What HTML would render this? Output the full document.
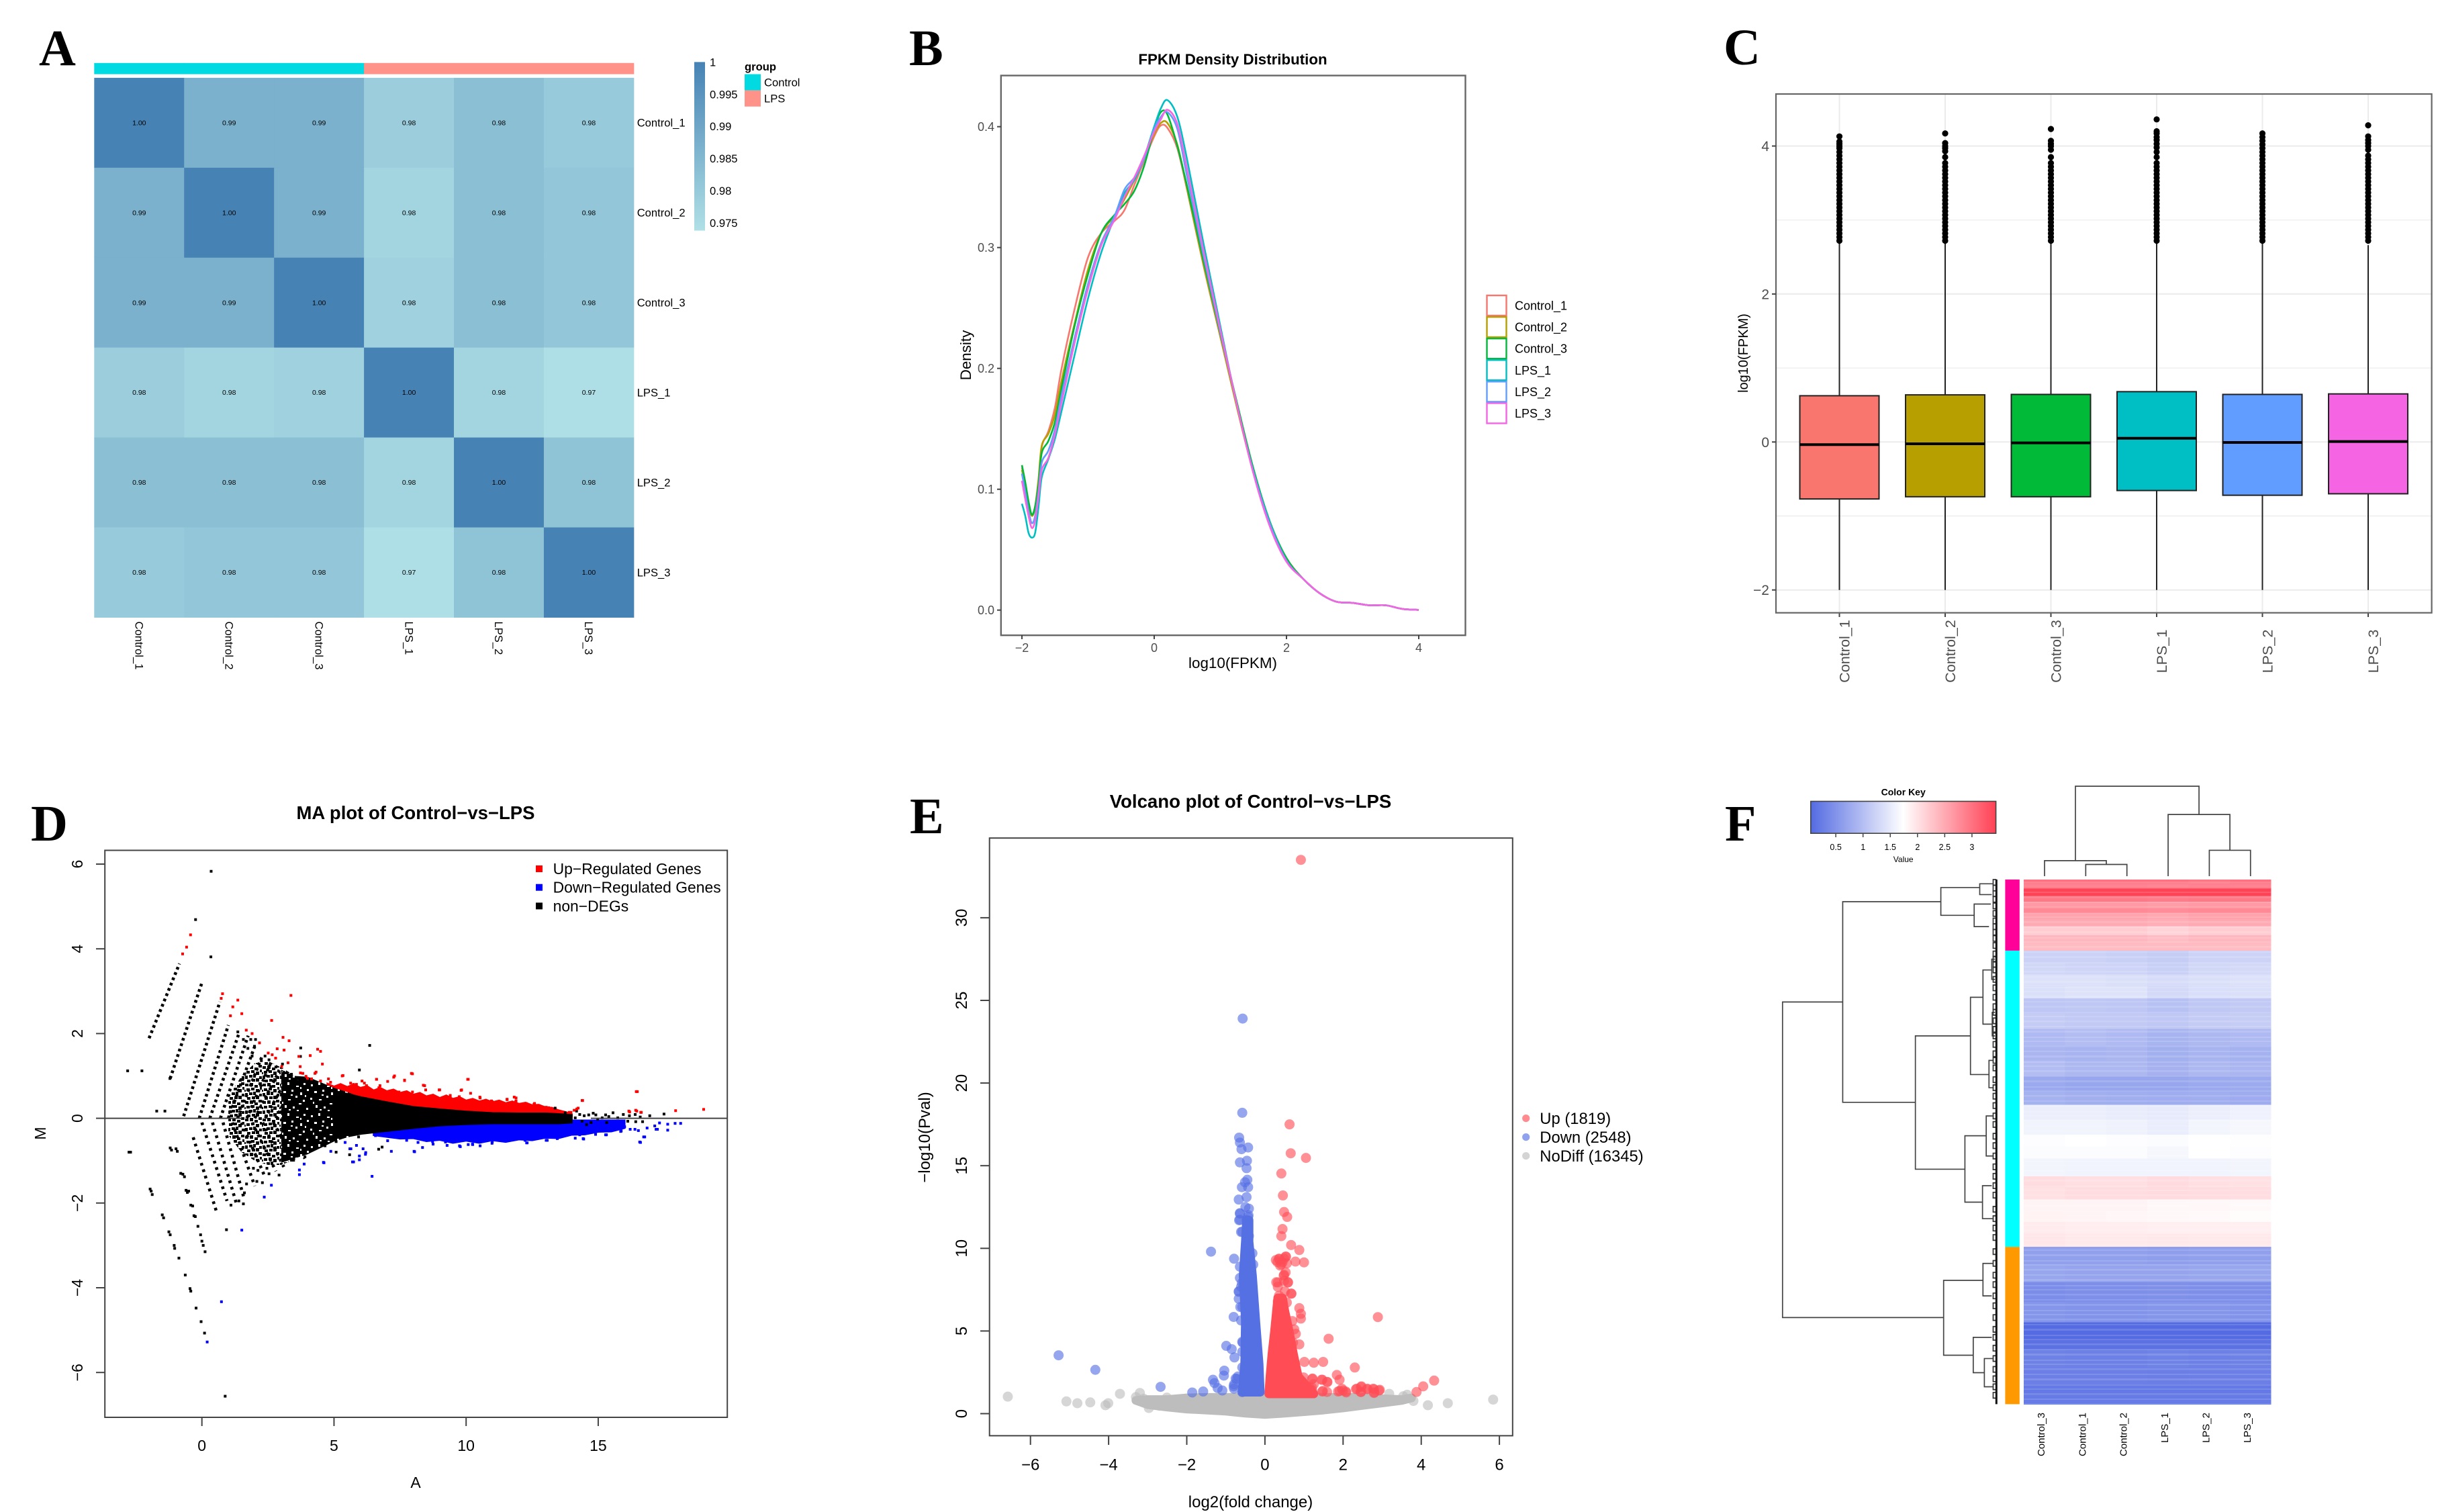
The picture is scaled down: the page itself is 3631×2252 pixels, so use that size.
<!DOCTYPE html>
<html lang="en">
<head>
<meta charset="utf-8">
<title>Transcriptome QC figure</title>
<style>
html,body{margin:0;padding:0;background:#fff;width:3631px;height:2252px;overflow:hidden}
svg{display:block}
text{font-family:"Liberation Sans",sans-serif;fill:#000}
.letter{font-family:"Liberation Serif",serif;font-weight:700;font-size:76px}
.gg{fill:#4d4d4d}
</style>
</head>
<body>
<svg id="fig" xmlns="http://www.w3.org/2000/svg" width="3631" height="2252" viewBox="0 0 3631 2252">
<rect width="3631" height="2252" fill="#fff"/>
<defs>
<linearGradient id="corrGrad" x1="0" y1="0" x2="0" y2="1"><stop offset="0" stop-color="#4682b4"/><stop offset="1" stop-color="#b0e0e6"/></linearGradient>
<linearGradient id="keyGrad" x1="0" y1="0" x2="1" y2="0"><stop offset="0" stop-color="#546be2"/><stop offset="0.5" stop-color="#ffffff"/><stop offset="1" stop-color="#ff4155"/></linearGradient>
<pattern id="maSpeckle" width="46" height="46" patternUnits="userSpaceOnUse">
<rect width="46" height="46" fill="#000"/>
<path fill="#fff" d="M3 5h3v3h-3zM14 2h3v4h-3zM27 7h4v2h-4zM38 3h3v3h-3zM8 15h4v3h-4zM20 13h3v3h-3zM33 17h3v4h-3zM43 12h3v3h-3zM2 25h3v3h-3zM15 27h4v2h-4zM26 22h3v3h-3zM37 28h3v3h-3zM10 36h3v4h-3zM22 38h3v3h-3zM31 33h4v2h-4zM42 40h3v3h-3zM19 20h3v2h-3zM6 31h2v3h-2zM28 43h3v2h-3zM40 21h2v3h-2zM16 42h3v2h-3zM33 9h2v3h-2z"/>
</pattern>
<pattern id="maStipple" width="26" height="26" patternUnits="userSpaceOnUse">
<path fill="#000" d="M1 2h5v4h-5zM8 1h5v5h-5zM15 4h5v4h-5zM21 0h5v4h-5zM3 9h5v4h-5zM10 8h5v4h-5zM17 10h5v5h-5zM23 7h3v4h-3zM1 16h4v5h-4zM7 15h5v4h-5zM13 14h4v5h-4zM22 17h4v4h-4zM4 22h5v4h-5zM11 21h5v4h-5zM17 20h5v5h-5zM0 11h2v3h-2z"/>
</pattern>
<pattern id="heatStripes" width="60" height="37" patternUnits="userSpaceOnUse">
<path fill="#fff" fill-opacity="0.13" d="M0 3h60v2.5h-60zM0 11h60v2h-60zM0 18h60v3h-60zM0 27h60v2h-60zM0 33h60v2h-60z"/>
</pattern>
</defs>
<text class="letter" x="58" y="97">A</text>
<text class="letter" x="1354" y="97">B</text>
<text class="letter" x="2567" y="96">C</text>
<text class="letter" x="46" y="1252">D</text>
<text class="letter" x="1355" y="1241">E</text>
<text class="letter" x="2569" y="1252">F</text>
<g id="pa"></g>
<g id="pb"></g>
<g id="pc"></g>
<g id="pd"></g>
<g id="pe"></g>
<g id="pf"></g>
</svg>

<script>
function addEl(parent, tag, attrs, text){
  const node = document.createElementNS('http://www.w3.org/2000/svg', tag);
  for (const k in attrs) node.setAttribute(k, attrs[k]);
  if (text !== undefined) node.textContent = text;
  parent.appendChild(node);
  return node;
}
function linePath(xs, ys){
  return xs.map((x,i)=>(i?'L':'M')+x.toFixed(1)+' '+ys[i].toFixed(1)).join('');
}
function smoothPath(xs, ys){
  let d='M'+xs[0].toFixed(1)+' '+ys[0].toFixed(1);
  for(let i=0;i<xs.length-1;i++){
    const a=Math.max(i-1,0), b=Math.min(i+2,xs.length-1);
    const c1x=xs[i]+(xs[i+1]-xs[a])/6, c1y=ys[i]+(ys[i+1]-ys[a])/6;
    const c2x=xs[i+1]-(xs[b]-xs[i])/6, c2y=ys[i+1]-(ys[b]-ys[i])/6;
    d+='C'+c1x.toFixed(1)+' '+c1y.toFixed(1)+' '+c2x.toFixed(1)+' '+c2y.toFixed(1)+' '+xs[i+1].toFixed(1)+' '+ys[i+1].toFixed(1);
  }
  return d;
}
</script>

<script>
/* Panel A: sample correlation heatmap */
const corrSamples = ['Control_1','Control_2','Control_3','LPS_1','LPS_2','LPS_3'];
const corrMatrix = [
 [1.000,0.987,0.987,0.979,0.983,0.980],
 [0.987,1.000,0.987,0.977,0.983,0.981],
 [0.987,0.987,1.000,0.978,0.983,0.981],
 [0.979,0.977,0.978,1.000,0.977,0.974],
 [0.983,0.983,0.983,0.977,1.000,0.982],
 [0.980,0.981,0.981,0.974,0.982,1.000]
];
const corrGroups = ['Control','Control','Control','LPS','LPS','LPS'];
const corrLegendTicks = [1,0.995,0.99,0.985,0.98,0.975];
(function(){
  const g=document.getElementById('pa');
  const cx=i=>140.3+i*133.93, cy=i=>115.9+i*133.93;
  const groupColor={Control:'#00dae0',LPS:'#ff9289'};
  const lo=[176,224,230], hi=[70,130,180], vMin=0.9738;
  const color=v=>{const t=Math.max(0,Math.min(1,(v-vMin)/(1-vMin)));return 'rgb('+lo.map((c,i)=>Math.round(c+(hi[i]-c)*t)).join(',')+')';};
  corrGroups.forEach((grp,i)=>{
    const r=addEl(g,'rect',{x:cx(i),y:93.8,width:134.4,height:16.7,fill:groupColor[grp]});
    
    
  });
  corrMatrix.forEach((row,ri)=>row.forEach((v,ci)=>{
    const r=addEl(g,'rect',{x:cx(ci),y:cy(ri),width:134.4,height:134.4,fill:color(v)});
    
    
    const t=addEl(g,'text',{x:cx(ci)+67,y:cy(ri)+70.5,'text-anchor':'middle','font-size':10.5,fill:'#111'},v.toFixed(2));
    
    
  }));
  corrSamples.forEach((s,i)=>{
    const t=addEl(g,'text',{x:948.7,y:cy(i)+72.8,'font-size':16.6},s);
    
    
    const x=cx(i)+67, y=925.5;
    const b=addEl(g,'text',{x:x-5.8,y:y,'font-size':16.6,transform:'rotate(90 '+(x-5.8)+' '+y+')'},s);
    
    
  });
  const bar=addEl(g,'rect',{x:1034,y:92.4,width:16,height:251.1,fill:'url(#corrGrad)'});
  
  
  corrLegendTicks.forEach(v=>{
    const y=92.4+(1-v)/(1-vMin)*251.1;
    const t=addEl(g,'text',{x:1057,y:y+6,'font-size':16.6},String(v));
    
    
  });
  const gt=addEl(g,'text',{x:1109,y:105,'font-size':16.6,'font-weight':700},'group');
  
  
  ['Control','LPS'].forEach((grp,i)=>{
    const k=addEl(g,'rect',{x:1109,y:110.5+i*24.1,width:24,height:24.1,fill:groupColor[grp]});
    
    
    const t=addEl(g,'text',{x:1138,y:128.5+i*24.1,'font-size':16.6},grp);
    
    
  });
})();
</script>

<script>
/* Panel B: density curves */
const densitySamples = ['Control_1','Control_2','Control_3','LPS_1','LPS_2','LPS_3'];
const densityColors = ['#F8766D','#B79F00','#00BA38','#00BFC4','#619CFF','#F564E3'];
const densityX = [-2,-1.95,-1.9,-1.85,-1.8,-1.75,-1.7,-1.6,-1.5,-1.4,-1.2,-1,-0.8,-0.6,-0.45,-0.3,-0.15,0,0.1,0.2,0.35,0.5,0.75,1,1.25,1.5,1.75,2,2.25,2.5,2.75,3,3.25,3.5,3.75,4];
const densityControl1 = [.118,.105,.088,.078,.085,.105,.135,.148,.168,.200,.250,.292,.312,.322,.331,.352,.372,.392,.401,.399,.382,.347,.284,.226,.168,.114,.071,.042,.026,.014,.007,.006,.004,.004,.001,.0002];
const densityControl2 = [.116,.103,.088,.078,.086,.108,.136,.146,.162,.190,.238,.282,.312,.326,.340,.356,.374,.394,.403,.403,.385,.348,.285,.227,.168,.114,.071,.043,.026,.014,.007,.006,.004,.004,.001,.0002];
const densityControl3 = [.120,.106,.090,.079,.086,.104,.130,.140,.156,.184,.236,.278,.312,.327,.336,.347,.368,.398,.412,.410,.384,.350,.288,.229,.172,.117,.073,.043,.026,.014,.007,.006,.004,.004,.001,.0002];
const densityLps1 = [.088,.078,.064,.060,.064,.085,.110,.125,.142,.165,.212,.258,.296,.325,.345,.356,.375,.400,.415,.422,.408,.372,.302,.235,.170,.115,.072,.041,.026,.014,.007,.006,.004,.004,.001,.0002];
const densityLps2 = [.113,.098,.082,.072,.078,.098,.122,.132,.150,.178,.226,.270,.304,.326,.348,.358,.374,.398,.408,.412,.398,.358,.292,.230,.170,.114,.071,.041,.026,.014,.007,.006,.004,.004,.001,.0002];
const densityLps3 = [.107,.092,.078,.068,.074,.094,.116,.126,.146,.172,.222,.266,.302,.323,.342,.358,.376,.396,.406,.414,.402,.364,.296,.232,.170,.113,.069,.040,.026,.014,.007,.006,.004,.004,.001,.0002];
const densityXTicks = [-2,0,2,4];
const densityYTicks = [0,0.1,0.2,0.3,0.4];
(function(){
  const g=document.getElementById('pb');
  const series=[densityControl1,densityControl2,densityControl3,densityLps1,densityLps2,densityLps3];
  const sx=v=>1719+v*98.5, sy=v=>908.7-v*1800;
  const frame=addEl(g,'rect',{x:1490.8,y:112.5,width:691.7,height:833.7,fill:'none',stroke:'#666',"stroke-width":2.4});
  
  
  series.forEach((ys,i)=>{
    const p=addEl(g,'path',{d:smoothPath(densityX.map(sx),ys.map(sy)),fill:'none',stroke:densityColors[i],'stroke-width':2.6});
    
    
    const k=addEl(g,'rect',{x:2214.5,y:440+i*32.1,width:29,height:30,fill:'#fff',stroke:densityColors[i],'stroke-width':2.4});
    
    
    const t=addEl(g,'text',{x:2256,y:461.5+i*32.1,'font-size':18},densitySamples[i]);
    
    
  });
  densityXTicks.forEach(v=>{
    const tk=addEl(g,'line',{x1:sx(v),x2:sx(v),y1:946,y2:952,stroke:'#444','stroke-width':2});
    
    
    const t=addEl(g,'text',{x:sx(v),y:971,'text-anchor':'middle','font-size':18,class:'gg'},String(v).replace('-','\u2212'));
    
    
  });
  densityYTicks.forEach(v=>{
    const tk=addEl(g,'line',{x1:1485,x2:1491,y1:sy(v),y2:sy(v),stroke:'#444','stroke-width':2});
    
    
    const t=addEl(g,'text',{x:1481,y:sy(v)+6.5,'text-anchor':'end','font-size':18,class:'gg'},v.toFixed(1));
    
    
  });
  const title=addEl(g,'text',{x:1836,y:96,'text-anchor':'middle','font-size':22.3,'font-weight':700},'FPKM Density Distribution');
  
  
  const xl=addEl(g,'text',{x:1836,y:995,'text-anchor':'middle','font-size':22.4},'log10(FPKM)');
  
  
  const yl=addEl(g,'text',{x:1446,y:529,'text-anchor':'middle','font-size':22.4,transform:'rotate(-90 1446 529)'},'Density');
  
  
})();
</script>

<script>
/* Panel C: box plot */
const boxSamples = ['Control_1','Control_2','Control_3','LPS_1','LPS_2','LPS_3'];
const boxColors = ['#F8766D','#B79F00','#00BA38','#00BFC4','#619CFF','#F564E3'];
const boxQ1 = [-0.77,-0.74,-0.74,-0.656,-0.72,-0.70];
const boxMedian = [-0.036,-0.024,-0.012,0.05,-0.006,0.006];
const boxQ3 = [0.625,0.637,0.643,0.68,0.643,0.65];
const boxWhiskerLow = [-2,-2,-2,-2,-2,-2];
const boxWhiskerHigh = [2.72,2.70,2.72,2.68,2.68,2.66];
const boxDenseOutliers = [2.72,2.77,2.82,2.87,2.92,2.97,3.02,3.07,3.12,3.17,3.22,3.27,3.32,3.37,3.42,3.47,3.52,3.57,3.62,3.67,3.72];
const boxTopOutliers = [
 [3.77,3.82,3.87,3.92,3.97,4.0,4.03,4.06,4.13],
 [3.77,3.85,3.93,3.97,4.0,4.04,4.17],
 [3.77,3.85,3.95,4.0,4.03,4.07,4.23],
 [3.77,3.85,3.92,3.98,4.03,4.08,4.12,4.17,4.2,4.36],
 [3.77,3.82,3.87,3.92,3.97,4.02,4.07,4.12,4.17],
 [3.77,3.82,3.87,3.95,4.0,4.04,4.08,4.13,4.28]
];
const boxYTicks = [-2,0,2,4];
const boxMinorTicks = [-1,1,3];
(function(){
  const g=document.getElementById('pc');
  const sx=i=>2739.5+i*157.5, sy=v=>658.3-v*110.2, hw=59;
  const bg=[[boxMinorTicks,1.2],[boxYTicks,2]];
  bg.forEach(([vals,w])=>vals.forEach(v=>{
    const l=addEl(g,'line',{x1:2645,x2:3621.6,y1:sy(v),y2:sy(v),stroke:'#ebebeb','stroke-width':w});
    
    
  }));
  boxSamples.forEach((s,i)=>{
    const l=addEl(g,'line',{x1:sx(i),x2:sx(i),y1:140,y2:912.7,stroke:'#ebebeb','stroke-width':2});
    
    
  });
  boxSamples.forEach((s,i)=>{
    const w=addEl(g,'line',{x1:sx(i),x2:sx(i),y1:sy(boxWhiskerHigh[i]),y2:sy(boxWhiskerLow[i]),stroke:'#222','stroke-width':2});
    
    
    boxDenseOutliers.concat(boxTopOutliers[i]).forEach(v=>{
      const c=addEl(g,'circle',{cx:sx(i),cy:sy(v),r:4.6,fill:'#000'});
      
      
    });
    const b=addEl(g,'rect',{x:sx(i)-hw,y:sy(boxQ3[i]),width:hw*2,height:sy(boxQ1[i])-sy(boxQ3[i]),fill:boxColors[i],stroke:'#222','stroke-width':2});
    
    
    const m=addEl(g,'line',{x1:sx(i)-hw,x2:sx(i)+hw,y1:sy(boxMedian[i]),y2:sy(boxMedian[i]),stroke:'#000','stroke-width':4});
    
    
    const tk=addEl(g,'line',{x1:sx(i),x2:sx(i),y1:913,y2:919,stroke:'#444','stroke-width':2});
    
    
    const tx=sx(i)+15;
    const t=addEl(g,'text',{x:tx,y:970,'text-anchor':'middle','font-size':21.6,class:'gg',transform:'rotate(-90 '+tx+' 970)'},s);
    
    
  });
  const frame=addEl(g,'rect',{x:2645,y:140,width:976.6,height:772.7,fill:'none',stroke:'#666','stroke-width':2.2});
  
  
  boxYTicks.forEach(v=>{
    const tk=addEl(g,'line',{x1:2639,x2:2645,y1:sy(v),y2:sy(v),stroke:'#444','stroke-width':2});
    
    
    const t=addEl(g,'text',{x:2635,y:sy(v)+7.5,'text-anchor':'end','font-size':21,class:'gg'},String(v).replace('-','\u2212'));
    
    
  });
  const yl=addEl(g,'text',{x:2603,y:526,'text-anchor':'middle','font-size':20,transform:'rotate(-90 2603 526)'},'log10(FPKM)');
  
  
})();
</script>

<script>
/* Panel D: MA plot */
const maXTicks = [0,5,10,15];
const maYTicks = [-6,-4,-2,0,2,4,6];
const maUpperStripeA0 = [-2.0,-1.2,-0.69,-0.1,0.3,0.7,1.0,1.35,1.7,2.0,2.4,2.8,3.15];
const maUpperStripeM0 = [1.89,0.94,0.05,0,0,0,0,0,0,0,0,0,0];
const maUpperStripeA1 = [-0.85,0,0.68,1.0,1.4,1.75,2.0,2.3,2.6,2.95,3.3,3.6,4.0];
const maUpperStripeM1 = [3.65,3.2,2.75,2.2,2.0,1.95,1.7,1.5,1.3,1.15,1.05,0.95,0.85];
const maLowerStripeA0 = [-0.33,0,0.4,0.8,1.15,1.5,1.9,2.3,2.7,3.1];
const maLowerStripeM0 = [-0.45,-0.1,-0.1,-0.1,-0.1,-0.1,-0.1,-0.1,-0.1,-0.1];
const maLowerStripeA1 = [0.55,0.95,1.3,1.6,2.0,2.4,2.8,3.1,3.5,3.9];
const maLowerStripeM1 = [-2.2,-1.95,-2.0,-1.9,-1.6,-1.4,-1.25,-1.15,-1.0,-0.95];
const maStippleA = [1,1.5,2,2.5,3,3.4];
const maStippleTop = [0.5,1.0,1.3,1.35,1.2,1.05];
const maStippleBottom = [-0.4,-0.8,-1.0,-1.1,-1.1,-1.0];
const maSpeckleA = [3,3.5,4,4.5,5,5.5,6,6.5];
const maSpeckleTop = [1.15,1.0,0.98,0.85,0.72,0.62,0.5,0.44];
const maSpeckleBottom = [-1.05,-0.95,-0.85,-0.7,-0.55,-0.45,-0.39,-0.34];
const maCoreA = [5,5.5,6,7,8,9,10,11,12,13,13.5,14];
const maCoreTop = [0.62,0.58,0.5,0.38,0.27,0.21,0.16,0.125,0.115,0.115,0.1,0.08];
const maCoreBottom = [-0.42,-0.4,-0.37,-0.3,-0.23,-0.17,-0.14,-0.12,-0.12,-0.12,-0.12,-0.1];
const maRedA = [4.75,5,5.25,5.5,5.75,6,6.25,6.5,6.75,7,7.25,7.5,7.75,8,8.25,8.5,8.75,9,9.25,9.5,9.75,10,10.25,10.5,10.75,11,11.25,11.5,11.75,12,12.25,12.5,12.75,13,13.25,13.5,13.75,14];
const maRedTop = [.82,.75,.81,.74,.8,.72,.76,.66,.72,.64,.68,.6,.64,.56,.6,.52,.56,.48,.54,.46,.5,.42,.46,.4,.44,.38,.42,.36,.4,.34,.37,.31,.32,.26,.25,.19,.15,.1];
const maBlueA = [6.5,7,7.5,8,8.5,9,9.5,10,10.5,11,11.5,12,12.5,13,13.5,14,14.5,15,15.5,16];
const maBlueBottom = [-.4,-.44,-.48,-.47,-.54,-.51,-.58,-.53,-.58,-.52,-.56,-.5,-.52,-.46,-.47,-.39,-.38,-.32,-.31,-.23];
const maRedPointsA = [-.43,-.58,-.73,.78,.73,1.36,1.17,1.51,1.08,3.37,2.64,1.9,1.68,2.18,3.07,3.3,2.85,3.11,2.51,2.66,2.79,3.02,3.26,3.67,4.1,4.38,4.49,4.56,3.72,3.82,4,4.28,5.31,5.74,6.15,6.61,6.7,7.26,7.67,7.93,8.38,8.98,9.4,9.81,10.06,10.52,10.99,11.55,11.82,11.88,12.57,13.03,13.97,14.19,14.39,16.44,16.16,16.42,16.61,17.93,18.99,
 3.73,3.94,4.15,4.32,4.49,4.79,4.87,5.17,5.34,5.63,5.85,6.06,6.23,6.02,6.61,6.74,7.03,7.29,7.67,7.97,8.43,8.47,9.0,9.83,10.08,6.95,7.46,7.97,8.26,8.81,9.4,9.74,10.17,
 10.53,10.96,11.55,11.89,11.89,12.27,12.59,13.12,14.41,14.09,14.24,13.9,16.48,16.19,16.46,16.63];
const maRedPointsM = [4.33,4.04,3.88,2.94,2.83,2.79,2.63,2.47,2.42,2.9,2.31,2,2.08,1.78,1.91,1.83,1.64,1.61,1.54,1.5,1.42,1.22,1.31,1.46,1.48,1.63,1.58,1.28,1.22,1.06,.94,1.06,1,.8,.83,.92,.72,.97,.89,1.06,.78,.67,.5,.66,.92,.5,.39,.44,.5,.39,.33,.26,.14,.22,.42,.63,.17,.19,.14,.18,.21,
 1.07,.99,.93,1.09,.88,.93,.85,.75,1.01,.83,.8,.88,.77,.62,.92,.77,.87,1,.9,1.05,.77,.67,.67,.67,.92,.62,.62,.62,.54,.51,.54,.51,.59,
 .48,.41,.45,.48,.41,.35,.35,.25,.42,.19,.24,.14,.63,.15,.17,.14];
const maBluePointsA = [.74,.2,1.51,2.36,2.63,3.69,3.69,3.87,4.6,4.88,5.6,5.7,5.96,6.2,6.44,7.17,8.03,8.75,9.22,9.78,10.24,10.99,12.29,13.03,14.43,15.31,15.87,16.57,16.72,16.39,17.19,17.32,17.63,17.63,17.91,18.12,15.64,
 14.09,14.3,14.45,14.13,14.9,15.28,15.57,15.85,16.21,16.52,16.76,16.6,16.85,17.14,17.24,10.53,10.25,10.98,12.23,12.31,13.07,13.45,14.9,15.32,15.66,16,
 5.42,5.64,5.85,6.1,6.19,5.74,5.96,4.62,6.57,7.03,7.46,7.75,8.18,8.35,8.05,9.28,9.75,10.08,8.73];
const maBluePointsM = [-4.33,-5.28,-2.64,-1.86,-1.58,-1.22,-1.33,-1.08,-1.04,-.78,-.72,-1.03,-.89,-.81,-1.37,-.78,-.78,-.61,-.56,-.67,-.61,-.56,-.58,-.52,-.48,-.39,-.3,-.56,-.44,-.26,-.26,-.11,-.14,-.28,-.12,-.12,-.22,
 -.36,-.39,-.49,-.47,-.38,-.39,-.2,-.31,-.26,-.29,-.44,-.57,-.23,-.18,-.26,-.65,-.62,-.59,-.52,-.58,-.52,-.48,-.25,-.23,-.23,-.2,
 -.57,-.72,-.64,-.72,-.85,-1.03,-.98,-1.05,-.41,-.53,-.41,-.52,-.57,-.69,-.79,-.64,-.65,-.62,-.55];
const maBlackPointsA = [.35,-.24,.34,.88,.93,6.35,3.74,5.96,-2.81,-2.27,-1.71,-1.4,-1.21,-2.76,-2.7,
 -1.96,-1.92,-1.88,-1.5,-1.45,-1.25,-1.2,-1.05,-1.03,-.87,-.63,-.45,-.42,-.22,-.03,.1,
 -1.2,-1.15,-.98,-.93,-.8,-.72,-.66,-.6,-.55,-.5,-.42,-.35,-.3,-.25,-.15,-.05,0,.05,.12,
 2.92,2.54,2.29,2.08,1.69,1.57,1.4,1.61,1.1,2.12,2.46,1.95,3.39,3.47,3.9,3.64,4.24,5.08,5.59,6.69,6.82,4.66,4.58,5.08,5.93,
 1.9,2.25,2.39,2.54,2.8,3.05,3.39,3.09,3.64,3.98,4.32,3.73,1.36,1.57,1.74,1.99,1.85,2.03,
 13.37,13.75,14.18,14.3,14.47,14.81,14.64,14.91,15.28,15.56,15.95,16.18,16.4,16.95,17.49,16.59,13.88,14.13,14.39,14.56,14.73,14.98,15.15,15.4,15.74,15.32,16.12,16.42,16.68];
const maBlackPointsM = [5.83,4.69,3.81,-6.56,-2.63,1.72,1.66,1.14,1.12,1.12,.17,.17,.94,-.8,-.8,
 -1.67,-1.72,-1.8,-2.28,-2.35,-2.68,-2.75,-3.0,-3.07,-3.3,-3.7,-4.02,-4.08,-4.48,-4.8,-5.07,
 -.7,-.75,-.72,-.78,-1.3,-1.32,-1.38,-1.7,-1.75,-1.72,-2.05,-2.07,-2.3,-2.32,-2.55,-2.75,-2.9,-3.0,-3.15,
 -1.34,-1.31,-1.52,-1.49,-1.55,-2.02,-1.95,-1.76,-2.05,-1.23,-1.18,-1.18,-.99,-.99,-.91,-.81,-.73,-.8,-.86,-.73,-.68,-.65,-.55,-.55,-.44,
 1.47,1.36,1.47,1.38,1.21,1.28,1.04,1.08,.93,.83,.8,1.46,2.04,1.86,1.65,1.7,1.86,1.86,
 .24,.13,.17,.09,.06,.12,.08,.08,.08,.13,.09,.06,.09,.06,.1,.03,-.02,.01,-.07,-.15,-.1,-.02,.01,.04,.01,-.1,-.07,-.08,-.08];
(function(){
  const g=document.getElementById('pd');
  const sx=v=>300.7+v*39.35, sy=v=>1665.6-v*63.1;
  function band(xs,top,bot,fill,name,edge){
    const px=xs.map(sx).concat(xs.map(sx).reverse());
    const py=top.map(sy).concat(bot.map(sy).reverse());
    const attrs={d:linePath(px,py)+'Z',fill:fill};
    if(edge){attrs.stroke=edge;attrs['stroke-width']=2.5;}
    const p=addEl(g,'path',attrs);
    
    
  }
  maUpperStripeA0.forEach((a,i)=>{
    const s=addEl(g,'line',{x1:sx(a),y1:sy(maUpperStripeM0[i]),x2:sx(maUpperStripeA1[i]),y2:sy(maUpperStripeM1[i]),stroke:'#000','stroke-width':4.6,'stroke-dasharray':'4 4.5'});
    
    
  });
  maLowerStripeA0.forEach((a,i)=>{
    const s=addEl(g,'line',{x1:sx(a),y1:sy(maLowerStripeM0[i]),x2:sx(maLowerStripeA1[i]),y2:sy(maLowerStripeM1[i]),stroke:'#000','stroke-width':4.6,'stroke-dasharray':'4 6'});
    
    
  });
  band(maRedA,maRedTop,maRedA.map(()=>0.05),'#f00','up-regulated-dense-cloud','#f00');
  band(maBlueA,maBlueA.map(()=>-0.05),maBlueBottom,'#00f','down-regulated-dense-cloud','#00f');
  band(maStippleA,maStippleTop,maStippleBottom,'url(#maStipple)','low-count-gene-cloud');
  band(maSpeckleA,maSpeckleTop,maSpeckleBottom,'url(#maSpeckle)','mid-count-gene-cloud');
  band(maCoreA,maCoreTop,maCoreBottom,'#000','non-deg-dense-cloud','#000');
  const pts=[[maBlackPointsA,maBlackPointsM,'#000'],[maRedPointsA,maRedPointsM,'#f00'],[maBluePointsA,maBluePointsM,'#00f']];
  pts.forEach(([as,ms,col])=>as.forEach((a,i)=>{
    const r=addEl(g,'rect',{x:sx(a)-2,y:sy(ms[i])-2,width:4,height:4,fill:col});
    
    
  }));
  const zeroL=addEl(g,'line',{x1:156,x2:360,y1:sy(0),y2:sy(0),stroke:'#444','stroke-width':2});
  
  
  const zero=addEl(g,'line',{x1:880,x2:1083,y1:sy(0),y2:sy(0),stroke:'#444','stroke-width':2});
  
  
  const frame=addEl(g,'rect',{x:156.2,y:1266.5,width:927,height:844.5,fill:'none',stroke:'#444','stroke-width':2});
  
  
  maXTicks.forEach(v=>{
    const tk=addEl(g,'line',{x1:sx(v),x2:sx(v),y1:2111,y2:2124,stroke:'#444','stroke-width':2});
    
    
    const t=addEl(g,'text',{x:sx(v),y:2161,'text-anchor':'middle','font-size':23},String(v));
    
    
  });
  maYTicks.forEach(v=>{
    const tk=addEl(g,'line',{x1:143,x2:156,y1:sy(v),y2:sy(v),stroke:'#444','stroke-width':2});
    
    
    const t=addEl(g,'text',{x:123,y:sy(v),'text-anchor':'middle','font-size':23,transform:'rotate(-90 123 '+sy(v)+')'},String(v).replace('-','\u2212'));
    
    
  });
  const title=addEl(g,'text',{x:619,y:1220,'text-anchor':'middle','font-size':27.5,'font-weight':700},'MA plot of Control\u2212vs\u2212LPS');
  
  
  const xl=addEl(g,'text',{x:619,y:2216,'text-anchor':'middle','font-size':23},'A');
  
  
  const yl=addEl(g,'text',{x:68,y:1688,'text-anchor':'middle','font-size':23,transform:'rotate(-90 68 1688)'},'M');
  
  
  [['Up\u2212Regulated Genes','#f00'],['Down\u2212Regulated Genes','#00f'],['non\u2212DEGs','#000']].forEach(([lab,col],i)=>{
    const k=addEl(g,'rect',{x:798,y:1289+i*27.7,width:10,height:10,fill:col});
    
    
    const t=addEl(g,'text',{x:823.6,y:1302+i*27.7,'font-size':22.9},lab);
    
    
  });
})();
</script>

<script>
/* Panel E: volcano plot */
const volXTicks = [-6,-4,-2,0,2,4,6];
const volYTicks = [0,5,10,15,20,25,30];
const volGrayEnvX = [-3.3,-3,-2.5,-2,-1.5,-1,-0.5,0,0.5,1,1.5,2,2.5,3,3.5,3.75];
const volGrayEnvTop = [0.8,0.85,0.85,0.95,0.98,0.98,0.98,0.98,0.98,0.98,0.98,0.98,0.98,0.9,0.85,0.95];
const volGrayEnvBottom = [0.8,0.55,0.4,0.28,0.22,0.15,0.03,-0.05,0.03,0.12,0.22,0.35,0.5,0.65,0.8,0.95];
const volDownCoreY = [1.3,3,5.6,8.35,10.4,11.7];
const volDownCoreLeft = [-0.585,-0.517,-0.5,-0.557,-0.5,-0.47];
const volDownCoreRight = [-0.12,-0.15,-0.235,-0.32,-0.407,-0.407];
const volUpCoreY = [1.2,2.25,3.6,4.97,6.3,7];
const volUpCoreLeft = [0.1,0.13,0.18,0.245,0.3,0.33];
const volUpCoreRight = [1.25,0.85,0.73,0.62,0.5,0.45];
const volDownX = [-.57,-.58,-.66,-.64,-.6,-.43,-.64,-.46,-.47,-.45,-.51,-.59,-.43,-.47,-.67,-.5,-.41,-.64,-.43,-.66,-.43,-.58,-.41,-1.38,-.79,-.45,-.67,-.8,-.99,-.85,-.78,-1.04,-1.05,-1.33,-1.29,-1.21,-1.09,-5.28,-4.34,-2.67,-1.86,-1.58,-.79,-.72,-.67,-.59,-.63,-.57,
 -.61,-.67,-.58,-.58,-.58,-.58,-.75,-.8,-.69,-.79,-.58,-.61,-.64,-.64,-.61,-.64,-.64,-.32,-.3,-.47,-.42,-.47];
const volDownY = [23.9,18.2,16.7,16.4,16.0,16.1,15.2,15.3,14.85,14.15,14,13.7,13.7,13.1,12.95,12.5,12.4,12.1,11.9,11.7,11.5,11,10.75,9.8,9.37,10.2,7.4,5.85,4.1,3.9,3.4,2.6,2.3,2.05,1.85,1.55,1.4,3.53,2.65,1.62,1.28,1.34,1.77,2.1,6.95,7.9,6.45,4.3,
 5.64,7.37,6.45,4.35,3.74,2.8,2.12,1.65,2.25,1.51,1.3,7.67,8.21,8.89,10.99,11.73,12.13,9.7,9.02,11.73,12,11];
const volUpX = [.92,.63,.66,1.05,.42,.46,.49,.57,.45,.42,.67,.88,.54,.78,1.0,.36,.49,.42,.32,.29,.49,.59,.49,.67,.88,.92,.92,2.89,1.63,.88,1.01,1.25,1.49,2.3,1.84,1.91,1.47,1.6,1.21,4.33,4.05,3.88,2.46,2.33,2.79,2.92,2.62,2.46,2,1.87,1.47,1.21,.95,1.08,2.07,2.79,
 .36,.45,.39,.53,.56,.28,.48,.53,.33,.59,.33,.51,.68,.33,.56,.36,.79,1.22,.99,1.25,1.45,1.59,1.48,1.59,1.97,1.91,2.08,2.35,2.47,2.45,2.62,2.77,2.8,2.94,1.14,1.08,1.2,.7,.75,.72];
const volUpY = [33.5,17.5,15.75,15.47,14.53,13.2,12.2,11.9,11.17,10.74,10.2,9.9,9.5,9.2,9.15,9.37,9.37,9.03,9.17,7.95,8.03,7.95,8.4,7.26,6.38,6.04,5.75,5.84,4.53,4.19,3.13,3.08,3.13,2.79,2.34,2.05,2.05,1.91,2.1,2,1.65,1.31,1.62,1.48,1.48,1.4,1.48,1.31,1.4,1.34,1.34,1.4,1.77,1.48,1.34,1.25,
 9.36,9.16,8.96,9.5,9.09,9.29,8.35,8.55,7.94,7.94,7.67,7.4,7.26,6.79,6.72,7.13,4.83,2.12,2.19,1.78,2.05,1.92,1.37,1.31,1.51,1.37,1.28,1.51,1.65,1.31,1.51,1.51,1.28,1.44,1.58,1.31,1.58,5.6,5.1,4.3];
const volGrayX = [-6.58,-5.08,-4.8,-4.47,-4.01,-4.08,-3.71,-3.2,-3.3,-2.97,-3,-2.7,-2.51,-2.28,5.84,4.68,4.17,3.8,3.54,3.18,3.64,-3.1,-2.9,-2.6,-2.4,-2.1];
const volGrayY = [1.03,.74,.63,.68,.63,.51,1.2,1.25,1,.34,.77,.48,.97,.77,.85,.63,.51,.77,1.05,1.2,1.14,.9,.6,.7,.45,.35];
const volLegendLabels = ['Up (1819)','Down (2548)','NoDiff (16345)'];
(function(){
  const g=document.getElementById('pe');
  const sx=v=>1883.9+v*58.2, sy=v=>2105.5-v*24.62;
  const cGray='#bdbdbd', cUp='#ff4c55', cDown='#5570e3';
  function core(top,leftish,rightish,col,name,horizontal){
    let px,py;
    if(horizontal){px=top.map(sx).concat(top.map(sx).reverse());py=leftish.map(sy).concat(rightish.map(sy).reverse());}
    else{px=leftish.map(sx).concat(rightish.map(sx).reverse());py=top.map(sy).concat(top.map(sy).reverse());}
    const p=addEl(g,'path',{d:linePath(px,py)+'Z',fill:col,stroke:col,'stroke-width':13,'stroke-linejoin':'round'});
    
    
  }
  function points(xs,ys,col,name){
    xs.forEach((x,i)=>{
      const c=addEl(g,'circle',{cx:sx(x),cy:sy(ys[i]),r:7.5,fill:col,'fill-opacity':0.62});
      
      
    });
  }
  points(volGrayX,volGrayY,cGray,'no-difference-point');
  core(volGrayEnvX,volGrayEnvTop,volGrayEnvBottom,cGray,'no-difference-dense-cloud',true);
  points(volUpX,volUpY,cUp,'up-regulated-point');
  points(volDownX,volDownY,cDown,'down-regulated-point');
  core(volUpCoreY,volUpCoreLeft,volUpCoreRight,cUp,'up-regulated-dense-cloud',false);
  core(volDownCoreY,volDownCoreLeft,volDownCoreRight,cDown,'down-regulated-dense-cloud',false);
  const frame=addEl(g,'rect',{x:1473.7,y:1248.2,width:779.1,height:890.2,fill:'none',stroke:'#444','stroke-width':2});
  
  
  volXTicks.forEach(v=>{
    const tk=addEl(g,'line',{x1:sx(v),x2:sx(v),y1:2138.4,y2:2152,stroke:'#444','stroke-width':2});
    
    
    const t=addEl(g,'text',{x:sx(v),y:2189.5,'text-anchor':'middle','font-size':24},String(v).replace('-','\u2212'));
    
    
  });
  volYTicks.forEach(v=>{
    const tk=addEl(g,'line',{x1:1460,x2:1473.7,y1:sy(v),y2:sy(v),stroke:'#444','stroke-width':2});
    
    
    const t=addEl(g,'text',{x:1440,y:sy(v),'text-anchor':'middle','font-size':24,transform:'rotate(-90 1440 '+sy(v)+')'},String(v));
    
    
  });
  const title=addEl(g,'text',{x:1862.5,y:1203,'text-anchor':'middle','font-size':27.6,'font-weight':700},'Volcano plot of Control\u2212vs\u2212LPS');
  
  
  const xl=addEl(g,'text',{x:1862.5,y:2245,'text-anchor':'middle','font-size':24},'log2(fold change)');
  
  
  const yl=addEl(g,'text',{x:1385,y:1694,'text-anchor':'middle','font-size':24,transform:'rotate(-90 1385 1694)'},'\u2212log10(Pval)');
  
  
  volLegendLabels.forEach((lab,i)=>{
    const c=addEl(g,'circle',{cx:2272.7,cy:1665.6+i*28,r:5.6,fill:[cUp,cDown,cGray][i],'fill-opacity':0.65});
    
    
    const t=addEl(g,'text',{x:2293.3,y:1674+i*28,'font-size':23.8},lab);
    
    
  });
})();
</script>

<script>
/* Panel F: clustered expression heatmap */
const heatColumns = ['Control_3','Control_1','Control_2','LPS_1','LPS_2','LPS_3'];
const heatGeneCounts = [9,9,17,12,12,12,14,14,19,16,17,26,25,25,25,32,33,35,32,33,33,28,32,32,25,25,38,24,25,25,23,25,28,37,38,42,43,37,21,39,35,20,22];
const heatValues = [
[3.0,3.0,3.0,3.0,2.97,3.0],[2.85,2.85,2.85,2.82,2.85,2.85],[3.42,3.42,3.42,3.42,3.42,3.42],[2.95,2.95,2.95,2.92,2.95,2.95],
[2.65,2.65,2.65,2.62,2.65,2.65],[2.8,2.8,2.8,2.77,2.8,2.8],[2.55,2.55,2.55,2.52,2.57,2.57],[2.5,2.5,2.5,2.47,2.5,2.5],
[2.2,2.2,2.2,2.13,2.2,2.2],[2.38,2.38,2.38,2.34,2.38,2.38],[2.35,2.35,2.35,2.35,2.35,2.35],
[1.22,1.22,1.2,1.16,1.24,1.24],[1.28,1.26,1.25,1.2,1.28,1.3],[1.4,1.4,1.38,1.34,1.38,1.4],[1.38,1.42,1.42,1.3,1.36,1.38],
[1.08,1.1,1.08,1.03,1.1,1.12],[1.15,1.12,1.12,1.1,1.15,1.16],[.95,.98,.95,.88,.92,.95],[.9,.88,.9,.83,.88,.85],
[.98,.92,.92,.86,.92,.9],[.75,.72,.72,.72,.75,.76],[.85,.82,.8,.79,.8,.78],[1.55,1.55,1.52,1.5,1.55,1.58],
[1.6,1.6,1.58,1.53,1.62,1.65],[1.72,1.74,1.72,1.7,1.74,1.75],[1.7,1.7,1.7,1.65,1.74,1.72],[1.62,1.6,1.6,1.6,1.6,1.62],
[2.05,2.03,2.03,2.07,2.03,2.02],[2.02,2.05,2.05,2.06,2.05,2.04],[1.84,1.84,1.84,1.8,1.81,1.79],[1.85,1.84,1.82,1.8,1.79,1.77],
[1.92,1.9,1.9,1.88,1.88,1.88],[1.96,1.94,1.94,1.95,1.94,1.94],[.65,.65,.65,.62,.65,.65],[.72,.7,.7,.7,.72,.72],
[.43,.45,.45,.47,.45,.45],[.52,.5,.5,.52,.52,.5],[.04,.04,.04,.04,.04,.04],[.12,.12,.12,.12,.12,.12],
[.3,.28,.28,.31,.28,.3],[.27,.27,.27,.26,.27,.27],[.2,.2,.2,.2,.2,.2],[.22,.22,.22,.22,.22,.22]
];
const clusterCounts = [151,629,334];
const clusterColors = ['#ff0099','#00ffff','#ff9900'];
const keyTicks = [0.5,1,1.5,2,2.5,3];
const topMergeLeft = [1,0,4,3,0.75];
const topMergeRight = [2,1.5,5,4.5,3.75];
const topMergeHeight = [25,33,55,131,191];
const topMergeLeftChild = [0,0,0,0,33];
const topMergeRightChild = [0,25,0,55,131];
const rowMergeHeight = [462,332,120,36,48,175,56,29,16,10,9,68,22,30,114,29,50,26];
const rowMergeTop = [260,47,17,9,52,332,250,192,384,169,282,544,502,650,851,815,972,1017];
const rowMergeBottom = [930,473,76,32,100,615,414,307,442,212,332,685,587,720,1010,884,1047,1077];
const rowMergeTopChild = [332,120,36,8,12,56,29,10,6,3,3,22,8,10,29,8,10,8];
const rowMergeBottomChild = [114,175,48,10,16,68,16,9,6,3,3,30,8,8,50,10,26,8];
const rowLeafMergeRanks = [6,18,30,42,56,72,88,100,112,125,140,158,169,180,192,212,230,250,270,282,300,318,332,350,370,384,400,425,442,460,480,502,520,545,565,587,610,630,650,670,700,720,740,760,790,815,840,860,884,905,930,955,972,995,1017,1040,1060,1077,1095];
(function(){
  const g=document.getElementById('pf');
  const x0=3014, y0=1310, H=781.4, colW=61.35;
  const lo=[84,107,226], hi=[255,65,85], vMin=0.04, vMax=3.44, vMid=1.74;
  const color=v=>{
    const a=v<vMid?(v-vMin)/(vMid-vMin):(vMax-v)/(vMax-vMid), c=v<vMid?lo:hi, t=Math.max(0,Math.min(1,a));
    return 'rgb('+c.map(q=>Math.round(q+(255-q)*t)).join(',')+')';
  };
  const totalGenes=heatGeneCounts.reduce((a,b)=>a+b,0);
  const ry=r=>y0+r/totalGenes*H;
  let acc=0;
  heatGeneCounts.forEach((n,ri)=>{
    heatValues[ri].forEach((v,ci)=>{
      const r=addEl(g,'rect',{x:x0+ci*colW,y:ry(acc),width:colW+.4,height:n/totalGenes*H+.4,fill:color(v),'shape-rendering':'crispEdges'});
      
      
    });
    acc+=n;
  });
  const stripes=addEl(g,'rect',{x:x0,y:y0,width:colW*6,height:H,fill:'url(#heatStripes)'});
  
  
  let cAcc=0;
  const clusterTotal=clusterCounts.reduce((a,b)=>a+b,0);
  clusterCounts.forEach((n,i)=>{
    const r=addEl(g,'rect',{x:2986.4,y:y0+cAcc/clusterTotal*H,width:21.4,height:n/clusterTotal*H,fill:clusterColors[i]});
    
    
    cAcc+=n;
  });
  const leafX=i=>3045+i*61.35, topY=h=>1305-h*0.7015;
  topMergeLeft.forEach((l,i)=>{
    const h=topMergeHeight[i];
    const p=addEl(g,'path',{d:'M'+leafX(l)+' '+topY(topMergeLeftChild[i])+'V'+topY(h)+'H'+leafX(topMergeRight[i])+'V'+topY(topMergeRightChild[i]),fill:'none',stroke:'#444','stroke-width':1.7});
    
    
  });
  const dx=h=>2973.3-h*0.6894, dy=r=>y0+r*0.7015;
  rowMergeHeight.forEach((h,i)=>{
    const p=addEl(g,'path',{d:'M'+dx(rowMergeTopChild[i])+' '+dy(rowMergeTop[i])+'H'+dx(h)+'V'+dy(rowMergeBottom[i])+'H'+dx(rowMergeBottomChild[i]),fill:'none',stroke:'#444','stroke-width':1.7});
    
    
  });
  rowLeafMergeRanks.forEach(r=>{
    const p=addEl(g,'path',{d:'M'+dx(0)+' '+dy(r-6)+'H'+dx(7)+'V'+dy(r+6)+'H'+dx(0),fill:'none',stroke:'#333','stroke-width':1.7});
    
    
  });
  const spine=addEl(g,'line',{x1:dx(0),x2:dx(0),y1:y0,y2:y0+H,stroke:'#111','stroke-width':3});
  
  
  heatColumns.forEach((c,i)=>{
    const tx=leafX(i)+0;
    const t=addEl(g,'text',{x:tx,y:2104,'text-anchor':'end','font-size':15,transform:'rotate(-90 '+tx+' 2104)'},c);
    
    
  });
  const key=addEl(g,'rect',{x:2696.8,y:1193.5,width:275.8,height:47.7,fill:'url(#keyGrad)',stroke:'#444','stroke-width':1.6});
  
  
  keyTicks.forEach(v=>{
    const x=2696.8+(v-vMin)/(vMax-vMin)*275.8;
    const tk=addEl(g,'line',{x1:x,x2:x,y1:1241,y2:1247,stroke:'#444','stroke-width':1.5});
    
    
    const t=addEl(g,'text',{x:x,y:1266,'text-anchor':'middle','font-size':12.5},String(v));
    
    
  });
  const kt=addEl(g,'text',{x:2834.7,y:1184.5,'text-anchor':'middle','font-size':14,'font-weight':700},'Color Key');
  
  
  const kv=addEl(g,'text',{x:2834.7,y:1284,'text-anchor':'middle','font-size':12},'Value');
  
  
})();
</script>
</body>
</html>
